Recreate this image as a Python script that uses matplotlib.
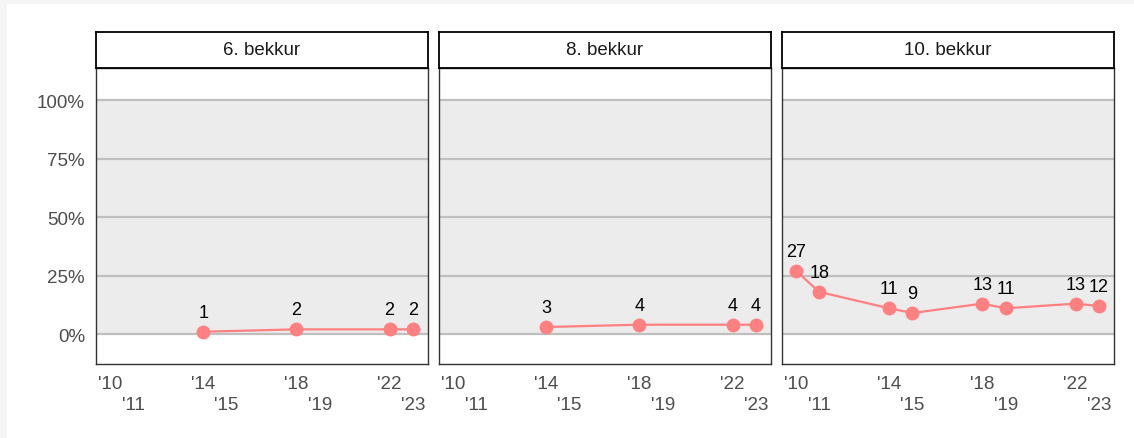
import matplotlib
matplotlib.use("Agg")
import matplotlib.pyplot as plt
from matplotlib.patches import Rectangle

plt.rcParams['font.family'] = ['Liberation Sans', 'DejaVu Sans']

panels = ["6. bekkur", "8. bekkur", "10. bekkur"]
years_6 = [2014, 2018, 2022, 2023]
vals_6 = [1, 2, 2, 2]
years_8 = [2014, 2018, 2022, 2023]
vals_8 = [3, 4, 4, 4]
years_10 = [2010, 2011, 2014, 2015, 2018, 2019, 2022, 2023]
vals_10 = [27, 18, 11, 9, 13, 11, 13, 12]

tick_years = [2010, 2011, 2014, 2015, 2018, 2019, 2022, 2023]
tick_labels = ["'10", "\n'11", "'14", "\n'15", "'18", "\n'19", "'22", "\n'23"]
y_ticks = [0, 25, 50, 75, 100]
y_labels = ["0%", "25%", "50%", "75%", "100%"]

series = [(years_6, vals_6), (years_8, vals_8), (years_10, vals_10)]

W, H = 1134, 439
fig = plt.figure(figsize=(W / 100, H / 100), dpi=100)
fig.patch.set_facecolor("white")
# light grey edge of the page
fig.patches.append(Rectangle((0, 0), 7 / W, 1, transform=fig.transFigure,
                             facecolor="#f5f5f5", edgecolor="none", zorder=-5))
fig.patches.append(Rectangle((0, 1 - 5 / H), 1, 5 / H, transform=fig.transFigure,
                             facecolor="#f5f5f5", edgecolor="none", zorder=-5))

lefts = [96, 439, 782]
pw = 332
top, bot, strip_top = 69, 365, 33
line_col = "#ff8080"

for i, (name, (xs, vs)) in enumerate(zip(panels, series)):
    ax = fig.add_axes([lefts[i] / W, (H - bot) / H, pw / W, (bot - top) / H])
    ax.set_xlim(2009.4, 2023.65)
    ax.set_ylim(-12.8, 113.7)
    ax.axhspan(0, 100, color="#ececec", zorder=0, lw=0)
    for yt in y_ticks:
        ax.axhline(yt, color="#bfbfbf", lw=1.6, zorder=1)
    ax.plot(xs, vs, color=line_col, lw=1.6, marker="o", markersize=10,
            markeredgewidth=0, zorder=3)
    for x, v in zip(xs, vs):
        ax.annotate(str(v), (x, v), xytext=(0, 8), textcoords="offset points",
                    ha="center", va="bottom", fontsize=13, color="black", zorder=4)
    ax.set_xticks(tick_years)
    ax.set_xticklabels(tick_labels, fontsize=13.5, color="#4d4d4d", va="top",
                       linespacing=1.3)
    ax.set_yticks(y_ticks)
    if i == 0:
        ax.set_yticklabels(y_labels, fontsize=13.5, color="#4d4d4d")
    else:
        ax.set_yticklabels([])
    ax.tick_params(length=0, pad=8)
    for s in ax.spines.values():
        s.set_color("#333333")
        s.set_linewidth(1.0)

    sax = fig.add_axes([lefts[i] / W, (H - top) / H, pw / W, (top - strip_top) / H])
    sax.set_xticks([])
    sax.set_yticks([])
    for s in sax.spines.values():
        s.set_color("black")
        s.set_linewidth(1.3)
    sax.text(0.5, 0.5, name, ha="center", va="center", fontsize=13.5, color="#1a1a1a",
             transform=sax.transAxes)

fig.savefig("out.png", dpi=100)
